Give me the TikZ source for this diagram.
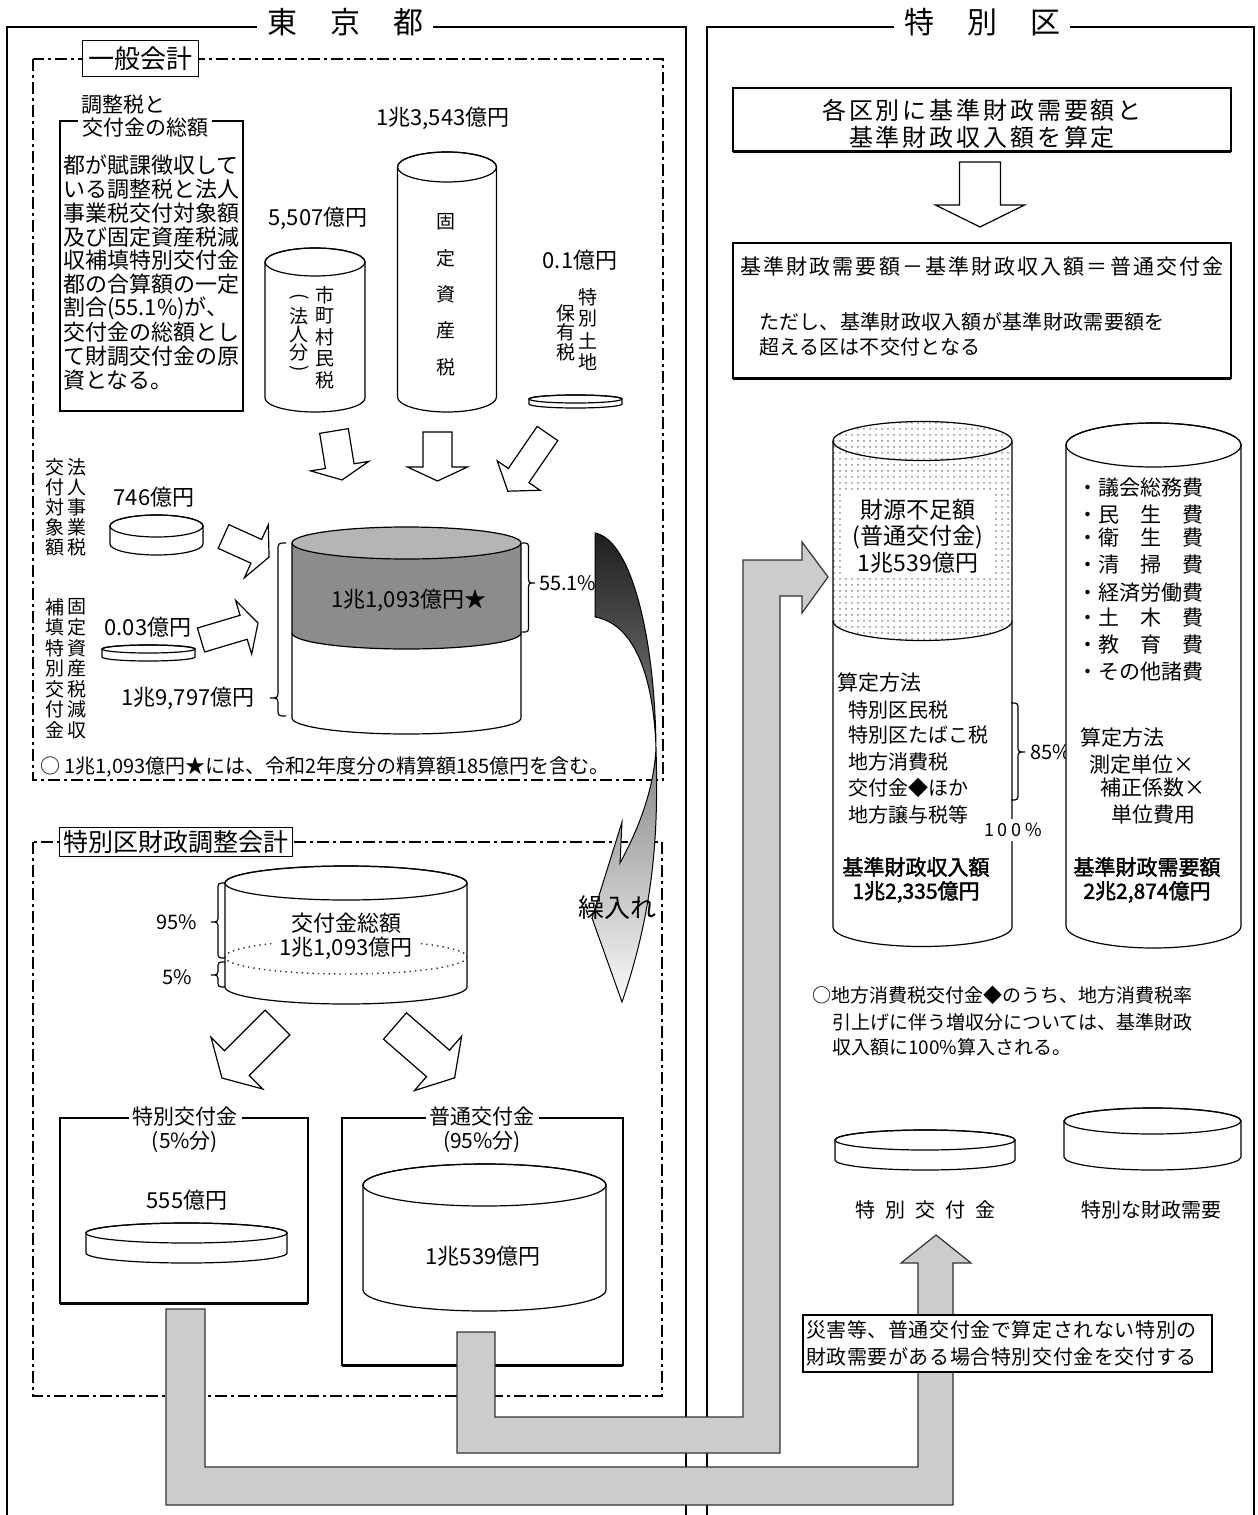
\documentclass[tikz,border=0pt]{standalone}
\usepackage{fontspec}
\setmainfont{Noto Sans CJK JP}
\newfontfamily\jpbold{Noto Sans CJK JP}[FakeBold=2]
\usetikzlibrary{patterns}
\newcommand\fsz[1]{\fontsize{#1pt}{#1pt}\selectfont}
\newcommand\lsp[1]{\addfontfeature{LetterSpace=#1}}
\newcommand\vlp{\rotatebox[origin=c]{-90}{(}}
\newcommand\vrp{\rotatebox[origin=c]{-90}{)}}
\definecolor{topg}{gray}{0.71}
\definecolor{bandg}{gray}{0.55}
% cylinder: cx, top cy, bottom cy, half width, ry
\newcommand\mycyl[5]{%
  \filldraw[cylline,fill=white] ({#1-#4},#2) -- ({#1-#4},#3) arc[start angle=180,end angle=0,x radius=#4,y radius=#5] -- ({#1+#4},#2) arc[start angle=0,end angle=-180,x radius=#4,y radius=#5] -- cycle;
  \draw[cylline] (#1,#2) ellipse[x radius=#4,y radius=#5];}
% block arrow: x, y (tail centre), angle, length, shaft, head width, head length
\newcommand\blkarrow[7]{%
  \begin{scope}[shift={(#1,#2)},rotate=#3]
  \draw[arr] (0,{-#5/2}) -- ({#4-#7},{-#5/2}) -- ({#4-#7},{-#6/2}) -- (#4,0) -- ({#4-#7},{#6/2}) -- ({#4-#7},{#5/2}) -- (0,{#5/2}) -- cycle;
  \end{scope}}
% braces: x0, y1, y2, tip y, amplitude
\newcommand\leftbrc[5]{%
  \draw[brc] (#1,#2) .. controls ({#1-#5/2},#2) .. ({#1-#5/2},{#2+#5/2}) -- ({#1-#5/2},{#4-#5/2}) .. controls ({#1-#5/2},#4) .. ({#1-#5},#4) .. controls ({#1-#5/2},#4) .. ({#1-#5/2},{#4+#5/2}) -- ({#1-#5/2},{#3-#5/2}) .. controls ({#1-#5/2},#3) .. (#1,#3);}
\newcommand\rightbrc[5]{%
  \draw[brc] (#1,#2) .. controls ({#1+#5/2},#2) .. ({#1+#5/2},{#2+#5/2}) -- ({#1+#5/2},{#4-#5/2}) .. controls ({#1+#5/2},#4) .. ({#1+#5},#4) .. controls ({#1+#5/2},#4) .. ({#1+#5/2},{#4+#5/2}) -- ({#1+#5/2},{#3-#5/2}) .. controls ({#1+#5/2},#3) .. (#1,#3);}
% vertical text column: name, x, y0, pitch, list
\newcommand\vcolumn[5]{%
  \foreach \c [count=\i from 0] in {#5} \node[vch] (#1\i) at (#2,{#3+#4*\i}) {\c};}
\begin{document}
\begin{tikzpicture}[x=0.5pt,y=-0.5pt,
  every node/.style={inner sep=0pt,outer sep=0pt,font=\fsz{10.5}},
  outerline/.style={line width=1.1pt},
  dashbox/.style={line width=0.9pt,dash pattern=on 6pt off 2pt on 1.5pt off 2pt},
  boxline/.style={line width=1pt},
  cylline/.style={line width=0.6pt},
  arr/.style={line width=0.6pt,fill=white,line join=miter},
  band/.style={line width=0.6pt,draw=black!80,fill=black!20},
  brc/.style={line width=0.6pt},
  title/.style={font=\fsz{15},fill=white,inner xsep=5pt,inner ysep=2pt},
  lblbox/.style={draw,line width=0.8pt,fill=white,inner xsep=3pt,inner ysep=3pt},
  amt/.style={font=\fsz{11}},
  vch/.style={font=\fsz{9.5}},
  capbg/.style={fill=white,inner xsep=2pt,inner ysep=1pt},
]
\useasboundingbox (0,0) rectangle (1258,1515);
\fill[white] (0,0) rectangle (1258,1515);

% ===== outer frames =====
\draw[outerline] (7,1515) -- (7,27) -- (686,27) -- (686,1515);
\node[title] (tTokyo) at (345,22) {東\hspace{1.1em}京\hspace{1.1em}都};
\draw[outerline] (707,1515) -- (707,27) -- (1254,27) -- (1254,1515);
\node[title] (tKu) at (982,22) {特\hspace{1.1em}別\hspace{1.1em}区};

% ===== general account =====
\draw[dashbox] (33,59) rectangle (663,780);
\node[lblbox,font=\fsz{13}] (ippan) at (140.5,58.5) {一般会計};

\draw[line width=1.2pt] (60,121) rectangle (243,411);
\node[anchor=west] (chouA) at (81,105) {調整税と};
\node[anchor=west,capbg] (chouB) at (78,128) {交付金の総額};
\foreach \t [count=\i from 0] in {都が賦課徴収して,いる調整税と法人,事業税交付対象額,及び固定資産税減,収補填特別交付金,都の合算額の一定,{割合(55.1\%)が、},交付金の総額とし,て財調交付金の原,資となる。}
  \node[anchor=west,font=\fsz{11}] (body\i) at (63,{165+23.9*\i}) {\t};

\node[amt] (a13543) at (443,118) {1兆3,543億円};
\node[amt] (a5507) at (318,218) {5,507億円};
\node[amt] (a01) at (580,260) {0.1億円};

\mycyl{315}{262}{398}{50}{14}
\mycyl{447}{167}{397}{49.5}{15}
\mycyl{575.5}{399}{404}{46.5}{4}
\vcolumn{sm}{325}{295}{21.25}{市,町,村,民,税}
\vcolumn{hj}{299}{298}{18}{\vlp,法,人,分,\vrp}
\vcolumn{kt}{446}{222}{36.25}{固,定,資,産,税}
\vcolumn{tt}{588}{297}{21.7}{特,別,土,地}
\vcolumn{hy}{566}{313}{19.5}{保,有,税}

\blkarrow{334}{431}{-80.7}{49.6}{29}{59}{14}
\blkarrow{437.5}{432}{-90}{49}{29}{60}{14}
\blkarrow{547.5}{433.5}{-124.5}{70}{25}{52}{19}

\vcolumn{kf}{55}{467}{20}{交,付,対,象,額}
\vcolumn{hz}{77}{467}{20}{法,人,事,業,税}
\vcolumn{ht}{55}{607}{20.5}{補,填,特,別,交,付,金}
\vcolumn{kz}{77}{607}{20.5}{固,定,資,産,税,減,収}

\node[amt] (a746) at (154,497) {746億円};
\mycyl{156.5}{526}{544}{46.5}{11}
\node[amt] (a003) at (148,627) {0.03億円};
\mycyl{148.5}{649}{657}{46.5}{4}
\blkarrow{223.5}{536.5}{-24.3}{50}{26}{58}{14}
\blkarrow{201}{640}{16.6}{59.5}{25}{56}{15}
\node[amt] (a19797) at (188,698) {1兆9,797億円};

% big cylinder
\fill[white] (292,543) -- (292,718) arc[start angle=180,end angle=0,x radius=114.5,y radius=16] -- (521,543) -- cycle;
\fill[bandg] (292,543) -- (292,633) arc[start angle=180,end angle=0,x radius=114.5,y radius=16] -- (521,543) arc[start angle=0,end angle=-180,x radius=114.5,y radius=16] -- cycle;
\filldraw[cylline,fill=topg] (406.5,543) ellipse[x radius=114.5,y radius=16];
\draw[cylline] (292,543) -- (292,718) arc[start angle=180,end angle=0,x radius=114.5,y radius=16] -- (521,543);
\draw[cylline] (292,633) arc[start angle=180,end angle=0,x radius=114.5,y radius=16];
\node[amt] (a11093) at (409,600) {1兆1,093億円★};
\leftbrc{286}{543}{716}{698}{16}
\rightbrc{522}{543}{632}{583}{13}
\node[anchor=west,font=\fsz{10}] (p551) at (539,583) {55.1\%};

\node[anchor=west,font=\fsz{10}] (note1) at (40,767) {○ 1兆1,093億円★には、令和2年度分の精算額185億円を含む。};

% ===== special ward adjustment account =====
\draw[dashbox] (33,842) rectangle (662,1396);
\node[lblbox,font=\fsz{12.5},inner xsep=2pt,inner ysep=1.5pt] (chosei) at (176,842) {特別区財政調整会計};

\mycyl{346}{883}{987}{121}{17}
\draw[dotted,line width=0.7pt,black!80] (346,957) ellipse[x radius=121,y radius=17];
\node[font=\fsz{11}] (kofuT) at (346,923) {交付金総額};
\node[font=\fsz{11},fill=white,inner xsep=3pt,inner ysep=1pt] (kofuA) at (346,948) {1兆1,093億円};
\leftbrc{225}{883}{958}{922}{14}
\leftbrc{225}{962}{987}{975}{14}
\node[anchor=east,font=\fsz{10}] (p95) at (197,922) {95\%};
\node[anchor=east,font=\fsz{10}] (p5) at (192,977) {5\%};

\blkarrow{277.5}{1022.5}{-135}{78.5}{35}{73}{21}
\blkarrow{395}{1026}{-41}{79}{35}{72}{22}

\draw[boxline] (60,1118) -- (60,1303);
\draw[boxline] (60,1118) rectangle (308,1303);
\draw[line width=1.5pt] (60,1303) -- (308,1303);
\node[capbg] (tokT) at (185,1117) {特別交付金};
\node (tokP) at (185,1142) {(5\%分)};
\node[amt] (a555) at (187,1200) {555億円};
\mycyl{186.5}{1233}{1253}{100.5}{10}

\draw[boxline] (342,1118) rectangle (623,1365);
\draw[line width=1.5pt] (342,1365) -- (623,1365);
\node[capbg] (futT) at (482,1117) {普通交付金};
\node (futP) at (482,1142) {(95\%分)};
\mycyl{484.5}{1185}{1290}{121.5}{21}
\node[amt] (a10539) at (483,1256) {1兆539億円};

% curved transfer arrow
\shadedraw[line width=0.5pt,top color=black!88,middle color=black!45,bottom color=black!2]
  (595,533) .. controls (632,540) and (655,640) .. (656,748)
  .. controls (658,820) and (657,900) .. (622,1002)
  -- (592,918) -- (622,822) -- (620,863)
  .. controls (638,830) and (654,790) .. (656,748)
  .. controls (654,690) and (640,625) .. (595,617) -- cycle;
\node[font=\fsz{13}] (kurire) at (617,908) {繰入れ};

% ===== special wards =====
\draw[boxline] (733,88) rectangle (1231,151);
\draw[line width=1.5pt] (733,151) -- (1231,151);
\node[font=\fsz{12}\lsp{12}] (k1a) at (982,110) {各区別に基準財政需要額と};
\node[font=\fsz{12}\lsp{12}] (k1b) at (982,137) {基準財政収入額を算定};
\blkarrow{980}{162}{-90}{65}{41}{89}{22}

\draw[boxline] (733,243) rectangle (1231,378);
\draw[line width=1.5pt] (733,378) -- (1231,378);
\node[font=\fsz{10.5}\lsp{10}] (k2a) at (982,267) {基準財政需要額－基準財政収入額＝普通交付金};
\node[anchor=west,font=\fsz{10}\lsp{1.5}] (k2b) at (759,322) {ただし、基準財政収入額が基準財政需要額を};
\node[anchor=west,font=\fsz{10}\lsp{1.5}] (k2c) at (759,347) {超える区は不交付となる};

% revenue cylinder
\fill[white] (833,441) -- (833,927) arc[start angle=180,end angle=0,x radius=89.5,y radius=19.5] -- (1012,441) -- cycle;
\fill[pattern=dots,pattern color=black!45] (833,441) -- (833,621) arc[start angle=180,end angle=0,x radius=89.5,y radius=19.5] -- (1012,441) arc[start angle=0,end angle=-180,x radius=89.5,y radius=19.5] -- cycle;
\draw[cylline] (833,441) -- (833,927) arc[start angle=180,end angle=0,x radius=89.5,y radius=19.5] -- (1012,441);
\draw[cylline] (922.5,441) ellipse[x radius=89.5,y radius=19.5];
\draw[cylline] (833,621) arc[start angle=180,end angle=0,x radius=89.5,y radius=19.5];
\fill[white] (842,490) rectangle (993,578);
\node[font=\fsz{11.5}] (zg1) at (918,510) {財源不足額};
\node[font=\fsz{11.5}] (zg2) at (918,537) {(普通交付金)};
\node[font=\fsz{11.5}] (zg3) at (918,563) {1兆539億円};
\node[anchor=west] (sh0) at (837,683) {算定方法};
\foreach \t/\yy [count=\i] in {特別区民税/710,特別区たばこ税/735,地方消費税/762,交付金◆ほか/788,地方譲与税等/815}
  \node[anchor=west,font=\fsz{10}] (sh\i) at (848,\yy) {\t};
\rightbrc{1011}{703}{800}{752}{14}
\node[anchor=west,font=\fsz{10}] (p85) at (1030,752) {85\%};
\node[font=\fsz{9}\lsp{20},fill=white,inner ysep=2pt] (p100) at (1013,830) {100\%};
\node[font=\jpbold\fsz{10.5}] (kz1) at (916,867) {基準財政収入額};
\node[font=\jpbold\fsz{10.5}] (kz2) at (916,892) {1兆2,335億円};

% demand cylinder
\mycyl{1153.5}{445}{926}{87.5}{22}
\foreach \t/\yy [count=\i] in {・議会総務費/488,・民　生　費/515,・衛　生　費/538,・清　掃　費/565,・経済労働費/593,・土　木　費/618,・教　育　費/645,・その他諸費/672}
  \node[anchor=west] (ls\i) at (1077,\yy) {\t};
\node[anchor=west] (dm0) at (1080,738) {算定方法};
\node[anchor=west] (dm1) at (1089,765) {測定単位×};
\node[anchor=west] (dm2) at (1100,788) {補正係数×};
\node[anchor=west] (dm3) at (1111,815) {単位費用};
\node[font=\jpbold\fsz{10.5}] (kj1) at (1147,867) {基準財政需要額};
\node[font=\jpbold\fsz{10.5}] (kj2) at (1147,892) {2兆2,874億円};

\node[anchor=west,font=\fsz{9.5}] (nt1) at (812,995) {○地方消費税交付金◆のうち、地方消費税率};
\node[anchor=west,font=\fsz{9.5}] (nt2) at (832,1022) {引上げに伴う増収分については、基準財政};
\node[anchor=west,font=\fsz{9.5}] (nt3) at (832,1047) {収入額に100\%算入される。};

\mycyl{925}{1140}{1160}{90}{10}
\mycyl{1152.5}{1121}{1157}{88.5}{13}
\node[font=\fsz{10}\lsp{50}] (tkk) at (925,1210) {特別交付金};
\node[font=\fsz{10}] (tkj) at (1151,1210) {特別な財政需要};

% ===== grey transfer bands =====
\draw[band] (457,1332) -- (495,1332) -- (495,1417) -- (743,1417) -- (743,560) -- (802,560) -- (802,542) -- (828,577) -- (802,613) -- (802,596) -- (780,596) -- (780,1453) -- (457,1453) -- cycle;
\draw[band] (166,1309) -- (205,1309) -- (205,1467) -- (918,1467) -- (918,1263) -- (901,1263) -- (936,1235) -- (971,1263) -- (953,1263) -- (953,1505) -- (166,1505) -- cycle;
\filldraw[line width=0.8pt,fill=white] (803,1315) rectangle (1212,1372);
\node[anchor=west,font=\fsz{10}\lsp{3}] (sg1) at (806,1330) {災害等、普通交付金で算定されない特別の};
\node[anchor=west,font=\fsz{10}\lsp{3}] (sg2) at (806,1357) {財政需要がある場合特別交付金を交付する};
\end{tikzpicture}
\end{document}
